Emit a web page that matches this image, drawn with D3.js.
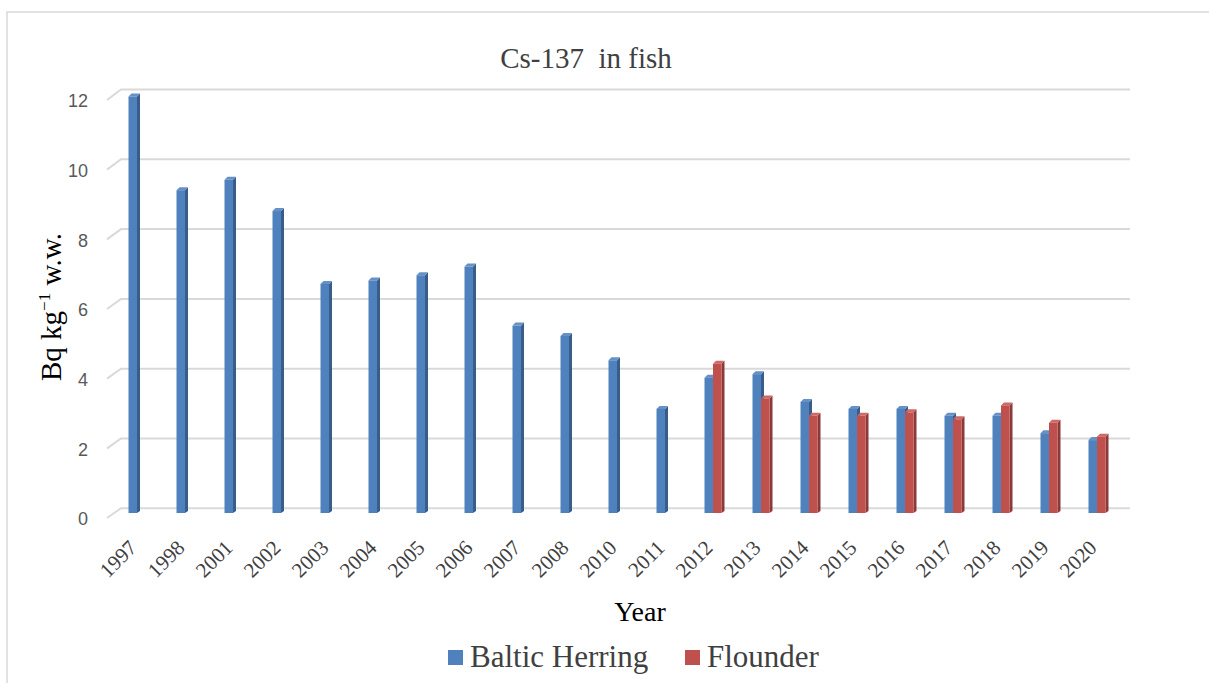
<!DOCTYPE html>
<html>
<head>
<meta charset="utf-8">
<script src="https://cdn.jsdelivr.net/npm/d3@7"></script>
<style>
  body { margin: 0; background: #fff; }
  svg { display: block; }
  .serif { font-family: "Liberation Serif", "Times New Roman", "DejaVu Serif", serif; }
</style>
</head>
<body>
<svg width="1209" height="683"></svg>
<script>
var years = ["1997", "1998", "2001", "2002", "2003", "2004", "2005", "2006", "2007", "2008",
             "2010", "2011", "2012", "2013", "2014", "2015", "2016", "2017", "2018", "2019", "2020"];
var herring = [12.0, 9.3, 9.6, 8.7, 6.6, 6.7, 6.85, 7.1, 5.4, 5.1, 4.4, 3.0,
               3.9, 4.0, 3.2, 3.0, 3.0, 2.8, 2.8, 2.3, 2.1];
var flounder = [null, null, null, null, null, null, null, null, null, null, null, null,
                4.3, 3.3, 2.8, 2.8, 2.9, 2.7, 3.1, 2.6, 2.2];
var seriesNames = ["Baltic Herring", "Flounder"];
var yTicks = [0, 2, 4, 6, 8, 10, 12];

var front = ["#4f81bd", "#c0504d"];
var side = ["#385d8a", "#8c3a38"];
var topc = ["#6690c8", "#cc6a67"];
var depth = 3;

var svg = d3.select("svg");

// chart frame
svg.append("rect")
  .attr("x", 7).attr("y", 12).attr("width", 1230).attr("height", 700)
  .attr("fill", "none").attr("stroke", "#d9d9d9").attr("stroke-width", 1.5);

var x = d3.scaleBand()
  .domain(years)
  .range([113, 1121])
  .paddingInner(0.646)
  .paddingOuter(0.323);

var xs = d3.scaleBand()
  .domain([0, 1])
  .range([0, x.bandwidth()]);

// bars (front plane), back wall and front edge of the floor
var y = d3.scaleLinear().domain([0, 12]).range([513, 96.5]);
var yBack = d3.scaleLinear().domain([0, 12]).range([508.3, 89.5]);
var yFront = d3.scaleLinear().domain([0, 12]).range([518, 100]);

var wallLeft = 121, wallRight = 1130, frontLeft = 107;

var grid = svg.append("g").attr("stroke", "#d9d9d9").attr("stroke-width", 2).attr("fill", "none");
grid.selectAll("path")
  .data(yTicks)
  .enter().append("path")
  .attr("d", d => d3.line()([[frontLeft, yFront(d)], [wallLeft, yBack(d)], [wallRight, yBack(d)]]));

svg.append("g")
  .selectAll("text")
  .data(yTicks)
  .enter().append("text")
  .attr("x", 88)
  .attr("y", d => yFront(d) + 1)
  .attr("dy", "0.35em")
  .attr("text-anchor", "end")
  .attr("font-family", "'Liberation Sans', Arial, sans-serif")
  .attr("font-size", 18)
  .attr("fill", "#595959")
  .text(d => d);

// 3D-looking columns
var rows = [];
years.forEach((yr, i) => {
  if (herring[i] != null) rows.push({year: yr, s: 0, v: herring[i]});
  if (flounder[i] != null) rows.push({year: yr, s: 1, v: flounder[i]});
});

var w = xs.bandwidth();
var bars = svg.append("g").selectAll("g")
  .data(rows)
  .enter().append("g");

bars.append("path")
  .attr("fill", d => side[d.s])
  .attr("d", d => {
    var x0 = x(d.year) + xs(d.s) + w, t = y(d.v), b = y(0);
    return d3.line()([[x0, t], [x0 + depth, t - depth], [x0 + depth, b - depth + 1], [x0, b]]) + "Z";
  });

bars.append("path")
  .attr("fill", d => topc[d.s])
  .attr("d", d => {
    var x0 = x(d.year) + xs(d.s), t = y(d.v);
    return d3.line()([[x0, t], [x0 + depth, t - depth], [x0 + w + depth, t - depth], [x0 + w, t]]) + "Z";
  });

bars.append("rect")
  .attr("fill", d => front[d.s])
  .attr("x", d => x(d.year) + xs(d.s))
  .attr("y", d => y(d.v))
  .attr("width", w)
  .attr("height", d => y(0) - y(d.v));

// category labels
svg.append("g")
  .selectAll("text")
  .data(years)
  .enter().append("text")
  .attr("class", "serif")
  .attr("transform", d => `translate(${x(d) + x.bandwidth() / 2 + 1},549) rotate(-45)`)
  .attr("text-anchor", "end")
  .attr("font-size", 21)
  .attr("fill", "#404040")
  .text(d => d);

// titles
svg.append("text")
  .attr("class", "serif")
  .attr("x", 586).attr("y", 68)
  .attr("text-anchor", "middle")
  .attr("font-size", 29)
  .attr("fill", "#404040")
  .attr("xml:space", "preserve")
  .text("Cs-137  in fish");

svg.append("text")
  .attr("class", "serif")
  .attr("x", 640).attr("y", 621)
  .attr("text-anchor", "middle")
  .attr("font-size", 28)
  .attr("fill", "#000")
  .text("Year");

var yt = svg.append("text")
  .attr("class", "serif")
  .attr("transform", "translate(61,307) rotate(-90)")
  .attr("text-anchor", "middle")
  .attr("font-size", 29)
  .attr("fill", "#000");
yt.append("tspan").text("Bq kg");
yt.append("tspan").attr("font-size", 17).attr("dy", -11).text("\u22121");
yt.append("tspan").attr("dy", 11).text(" w.w.");

// legend
var legend = svg.append("g").selectAll("g")
  .data(seriesNames)
  .enter().append("g")
  .attr("transform", (d, i) => `translate(${i === 0 ? 448 : 685},0)`);

legend.append("rect")
  .attr("x", 0).attr("y", 650)
  .attr("width", 15).attr("height", 15)
  .attr("fill", (d, i) => front[i]);

legend.append("text")
  .attr("class", "serif")
  .attr("x", 22).attr("y", 667)
  .attr("font-size", 31)
  .attr("fill", "#404040")
  .text(d => d);
</script>
</body>
</html>
